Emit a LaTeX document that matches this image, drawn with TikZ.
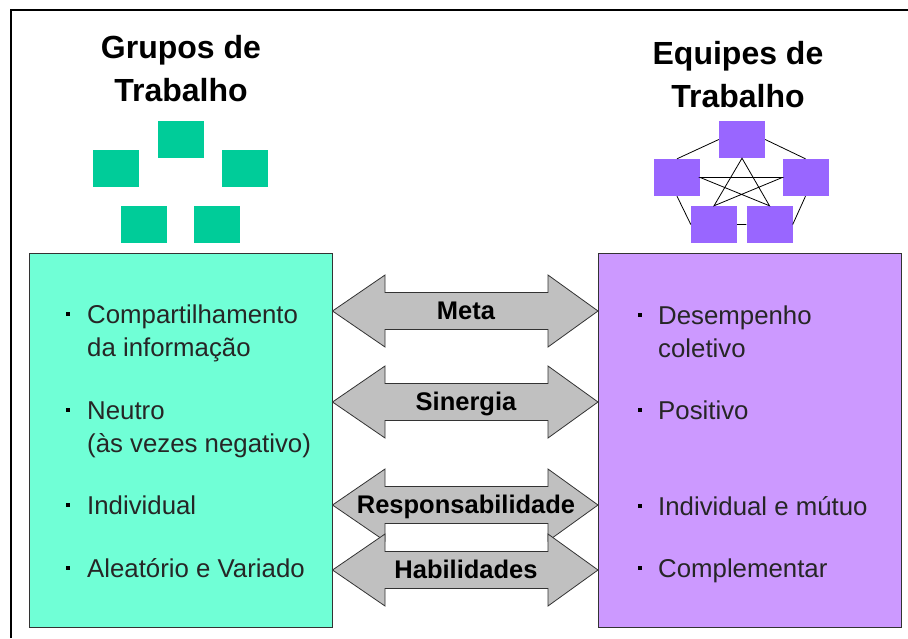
\documentclass[tikz,border=0pt]{standalone}
\usepackage{fontspec}
\setmainfont{Liberation Sans}
\definecolor{agua}{HTML}{70FFD6}
\definecolor{lilas}{HTML}{CC99FF}
\definecolor{verde}{HTML}{00CC99}
\definecolor{roxo}{HTML}{9966FF}
\definecolor{cinza}{HTML}{C0C0C0}
\begin{document}
\begin{tikzpicture}[x=1pt,y=-1pt,
    caixa/.style={draw=black!80,line width=1pt,minimum width=303pt,minimum height=374pt,inner sep=0pt},
    quad/.style={minimum width=46pt,minimum height=37pt,inner sep=0pt},
    titulo/.style={font=\fontsize{32}{43}\selectfont\bfseries,align=center,anchor=base},
    item/.style={font=\fontsize{25.8}{33}\selectfont,align=left,anchor=base west,inner sep=0pt,text=black!85},
    seta/.style={fill=cinza,draw=black!80,line width=.8pt},
    rotulo/.style={font=\fontsize{25.5}{28}\selectfont\bfseries,anchor=base,inner sep=0pt}]
  \useasboundingbox (0,0) rectangle (908,638);
  \draw[line width=2pt] (11,638) -- (11,10) -- (908,10);
  % titulos
  \node[titulo] (tit1) at (181,101) {Grupos de\\Trabalho};
  \node[titulo] (tit2) at (738,107) {Equipes de\\Trabalho};
  % quadrados
  \foreach \n/\x/\y in {g1/180.5/139.5,g2/116/168,g3/244.5/168,g4/144/224.5,g5/216.5/224.5}
    \node[quad,fill=verde] (\n) at (\x,\y) {};
  \foreach \n/\x/\y in {p1/742/139.5,p2/677/177.5,p3/805.5/177.5,p4/714/224.5,p5/769.5/224.5}
    \node[quad,fill=roxo] (\n) at (\x,\y) {};
  \draw[line width=.8pt] (p1.west)--(p2.north) (p1.east)--(p3.north) (p2.south)--(p4.west)
        (p3.south)--(p5.east) (p4.east)--(p5.west);
  \draw[line width=.8pt] (p1.south)--(p4.north)--(p3.west)--(p2.east)--(p5.north)--cycle;
  % caixas
  \node[caixa,fill=agua] (grupos) at (180.5,440) {};
  \node[caixa,fill=lilas] (equipes) at (750,440.5) {};
  \foreach \t/\y/\b [count=\i] in {{Compartilhamento\\da informação}/356/323,{Neutro\\(às vezes negativo)}/452/419,Individual/514/514,{Aleatório e Variado}/577/577}{
    \fill (66,\b-11) rectangle (70,\b-7);
    \node[item] (esq\i) at (87,\y) {\t};
  }
  \foreach \t/\y/\b [count=\i] in {{Desempenho\\coletivo}/357/324,Positivo/419/419,{Individual e mútuo}/515/515,Complementar/577/577}{
    \fill (638,\b-11) rectangle (642,\b-7);
    \node[item] (dir\i) at (658,\y) {\t};
  }
  % setas
  \foreach \y/\t [count=\i] in {311/Meta,402/Sinergia,505/Responsabilidade,570/Habilidades}{
    \draw[seta] (grupos.east |- 0,\y) -- (385,\y-36) -- (385,\y-18.5) -- (548,\y-18.5) -- (548,\y-36)
      -- (equipes.west |- 0,\y) -- (548,\y+36) -- (548,\y+18.5) -- (385,\y+18.5) -- (385,\y+36) -- cycle;
    \node[rotulo] (seta\i) at (466,\y+8.5) {\t};
  }
\end{tikzpicture}
\end{document}
